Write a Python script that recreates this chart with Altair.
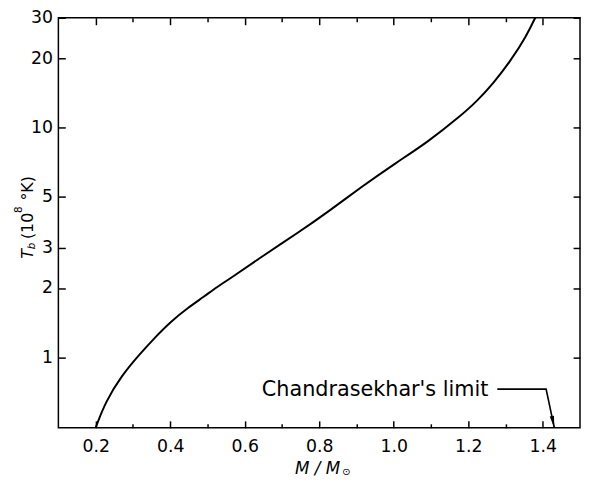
import altair as alt
import pandas as pd

# ---- data ----
mass = [0.200, 0.2265, 0.2705, 0.3147, 0.3589, 0.4028, 0.4471, 0.4913, 0.5265,
        0.5617, 0.6501, 0.7383, 0.8264, 0.9148, 1.0030, 1.0911, 1.1795, 1.2235,
        1.2677, 1.3119, 1.3559, 1.3823]
temp = [0.493, 0.641, 0.834, 1.016, 1.218, 1.435, 1.638, 1.837, 2.027,
        2.203, 2.772, 3.435, 4.322, 5.531, 6.960, 8.626, 11.22, 13.01,
        15.59, 19.3, 24.9, 30.6]

x_major = [0.2, 0.4, 0.6, 0.8, 1.0, 1.2, 1.4]
x_minor = [0.3, 0.5, 0.7, 0.9, 1.1, 1.3]
y_ticks = [1, 2, 3, 5, 10, 20, 30]
x_domain = [0.1, 1.5]
y_domain = [0.493, 30]

ann_x = [1.278, 1.409, 1.431]
ann_y = [0.726, 0.726, 0.493]
arrow_x = [1.431]
arrow_y = [0.493]
label_text = ["Chandrasekhar's limit"]
label_x = [0.646]
label_y = [0.676]

FONT = "DejaVu Sans"
W, H = 528, 415

df_curve = pd.DataFrame({"M": mass, "T": temp})
df_ann = pd.DataFrame({"M": ann_x, "T": ann_y})
df_arrow = pd.DataFrame({"M": arrow_x, "T": arrow_y})
df_label = pd.DataFrame({"M": label_x, "T": label_y, "txt": label_text})

xs = alt.Scale(domain=x_domain, nice=False, zero=False)
ys = alt.Scale(type="log", domain=y_domain, nice=False)


def xaxis(orient, values, size, labels):
    return alt.Axis(orient=orient, values=values, tickSize=size, offset=-size,
                    domain=False, grid=False, labels=labels, format=".1f",
                    labelPadding=10, title=None)


def yaxis(orient, labels):
    return alt.Axis(orient=orient, values=y_ticks, tickSize=7, offset=-7,
                    domain=False, grid=False, labels=labels, format="d",
                    labelPadding=6, title=None)


curve = alt.Chart(df_curve).mark_line(
    color="black", strokeWidth=2, clip=True, interpolate="basis"
).encode(
    x=alt.X("M:Q", scale=xs, axis=xaxis("bottom", x_major, 7, True)),
    y=alt.Y("T:Q", scale=ys, axis=yaxis("left", True)),
)

ann = alt.Chart(df_ann).mark_line(color="black", strokeWidth=1.6).encode(
    x=alt.X("M:Q", scale=xs, axis=xaxis("bottom", x_minor, 4, False)),
    y=alt.Y("T:Q", scale=ys, axis=yaxis("right", False)),
)

arrow = alt.Chart(df_arrow).mark_point(
    shape="M -0.4 -2.2 L 0.4 -2.2 L 0 0 Z", filled=True, color="black",
    opacity=1, size=121, angle=348
).encode(
    x=alt.X("M:Q", scale=xs, axis=xaxis("top", x_major, 7, False)),
    y=alt.Y("T:Q", scale=ys, axis=None),
)

label = alt.Chart(df_label).mark_text(
    align="left", baseline="alphabetic", font=FONT, fontSize=21, color="black"
).encode(
    x=alt.X("M:Q", scale=xs, axis=xaxis("top", x_minor, 4, False)),
    y=alt.Y("T:Q", scale=ys, axis=None),
    text="txt:N",
)

one = pd.DataFrame({"a": [0]})

# y-axis title  T_b (10^8 °K), rotated
ytitle_parts = [
    ("T", 16, "italic", 244, -26),
    ("b", 10.5, "italic", 234.2, -23.5),
    ("(10", 16, "normal", 224, -26),
    ("8", 10.5, "normal", 197.5, -36.5),
    ("°K)", 16, "normal", 185, -26),
]
# x-axis title  M/M_sun
xtitle_parts = [
    ("M / M", 17, "italic", 239.5, 461.5),
    ("⊙", 10, "normal", 287, 463),
]

title_layers = []
for txt, fs, style, yy, xx in ytitle_parts:
    title_layers.append(
        alt.Chart(one).mark_text(
            text=txt, fontSize=fs, fontStyle=style, font=FONT, angle=270,
            align="left", baseline="alphabetic", color="black"
        ).encode(x=alt.value(xx), y=alt.value(yy))
    )
for txt, fs, style, xx, yy in xtitle_parts:
    title_layers.append(
        alt.Chart(one).mark_text(
            text=txt, fontSize=fs, fontStyle=style, font=FONT,
            align="left", baseline="alphabetic", color="black"
        ).encode(x=alt.value(xx), y=alt.value(yy))
    )

chart = alt.layer(curve, ann, arrow, label, *title_layers).resolve_axis(
    x="independent", y="independent"
).properties(
    width=W, height=H,
    autosize=alt.AutoSizeParams(type="none"),
    padding={"left": 51, "top": 7, "right": 1, "bottom": 54},
    background="white",
).configure_view(
    stroke="black", strokeWidth=1.5
).configure_axis(
    labelFont=FONT, labelFontSize=17.5, labelColor="black",
    tickColor="black", tickWidth=1.5,
)

chart.save("out.html", embed_options={"renderer": "svg", "actions": False})
